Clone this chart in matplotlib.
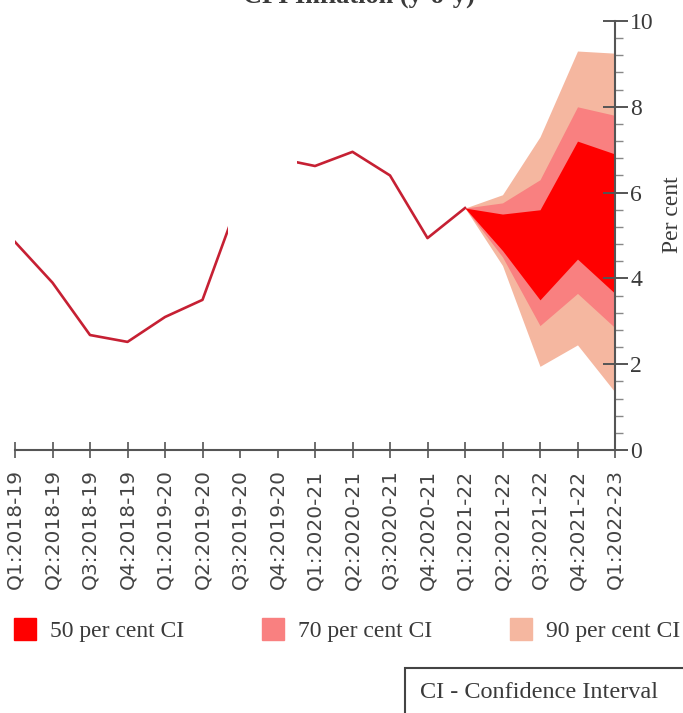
import matplotlib

matplotlib.use("Agg")
import matplotlib.pyplot as plt
from matplotlib.patches import Patch, Rectangle
from matplotlib.ticker import AutoMinorLocator, MultipleLocator

LINE_RED = "#C62033"
CI50 = "#FF0000"
CI70 = "#F98080"
CI90 = "#F5B7A0"
AXIS_GREY = "#555555"
TEXT_GREY = "#3A3A3A"

quarters = [
    "Q1:2018-19", "Q2:2018-19", "Q3:2018-19", "Q4:2018-19",
    "Q1:2019-20", "Q2:2019-20", "Q3:2019-20", "Q4:2019-20",
    "Q1:2020-21", "Q2:2020-21", "Q3:2020-21", "Q4:2020-21",
    "Q1:2021-22", "Q2:2021-22", "Q3:2021-22", "Q4:2021-22",
    "Q1:2022-23",
]

# actual inflation, Q1:2018-19 .. Q1:2021-22
actual = [4.85, 3.9, 2.68, 2.52, 3.1, 3.5, 5.9, 6.8, 6.62, 6.95, 6.4, 4.94, 5.64]
# part of the line hidden in the source picture (quarter positions)
gap_from, gap_to = 5.68, 7.52

# fan chart bands, Q1:2021-22 .. Q1:2022-23
upper90 = [5.64, 5.95, 7.3, 9.3, 9.25]
upper70 = [5.64, 5.76, 6.3, 8.0, 7.8]
upper50 = [5.64, 5.5, 5.6, 7.2, 6.9]
lower50 = [5.64, 4.65, 3.5, 4.45, 3.65]
lower70 = [5.64, 4.5, 2.9, 3.65, 2.85]
lower90 = [5.64, 4.3, 1.95, 2.45, 1.35]

fig = plt.figure(figsize=(6.83, 7.13), dpi=100)
ax = fig.add_axes([15 / 683, 1 - 450 / 713, 600 / 683, 429 / 713])

x_act = list(range(len(actual)))
x_fan = list(range(len(actual) - 1, len(quarters)))

# keep every mark under the spines (zorder 2.5)
ax.fill_between(x_fan, lower90, upper90, color=CI90, linewidth=0, zorder=1.0)
ax.fill_between(x_fan, lower70, upper70, color=CI70, linewidth=0, zorder=1.1)
ax.fill_between(x_fan, lower50, upper50, color=CI50, linewidth=0, zorder=1.2)
ax.plot(x_act, actual, color=LINE_RED, linewidth=1.9, zorder=1.5)
ax.axvspan(gap_from, gap_to, color="white", linewidth=0, zorder=2.0)

ax.set_xlim(0, len(quarters) - 1)
ax.set_ylim(0, 10)
ax.set_xticks(range(len(quarters)))
ax.set_xticklabels(quarters, rotation=90, fontsize=14.5, family="DejaVu Sans", color="#444444")

ax.yaxis.tick_right()
ax.yaxis.set_label_position("right")
ax.yaxis.set_major_locator(MultipleLocator(2))
ax.yaxis.set_minor_locator(AutoMinorLocator(5))
ax.tick_params(axis="y", which="major", direction="inout", length=18, width=1.4,
               color=AXIS_GREY, labelsize=17, pad=2)
ax.tick_params(axis="y", which="minor", direction="out", length=6, width=1.0, color="#888888")
ax.tick_params(axis="x", which="major", direction="inout", length=12, width=1.2,
               color=AXIS_GREY, pad=8)
for lab in ax.get_yticklabels():
    lab.set_family("Liberation Serif")
    lab.set_color(TEXT_GREY)

ax.set_ylabel("Per cent", fontsize=17, family="Liberation Serif", color=TEXT_GREY, rotation=90)
ax.yaxis.set_label_coords(1.078, 0.548)

for side in ("top", "left"):
    ax.spines[side].set_visible(False)
for side in ("right", "bottom"):
    ax.spines[side].set_color(AXIS_GREY)
    ax.spines[side].set_linewidth(1.5)

# title tail, cut by the top edge in the source
fig.text(475 / 683, 1 - 3 / 713, "CPI Inflation (y-o-y)", ha="right", va="baseline",
         fontsize=19, fontweight="bold", family="Liberation Serif", color=TEXT_GREY)

handles = [Patch(color=CI50), Patch(color=CI70), Patch(color=CI90)]
fig.legend(handles, ["50 per cent CI", "70 per cent CI", "90 per cent CI"],
           loc="center left", bbox_to_anchor=(14 / 683, 1 - 630 / 713), ncol=3,
           frameon=False, prop={"family": "Liberation Serif", "size": 17},
           labelcolor=TEXT_GREY,
           handlelength=0.92, handleheight=1.05, handletextpad=0.6, columnspacing=3.3,
           borderaxespad=0, borderpad=0)

fig.add_artist(Rectangle((405 / 683, -0.05), 0.5, 0.05 + (713 - 668) / 713,
                         transform=fig.transFigure, facecolor="white",
                         edgecolor="#444444", linewidth=1.5))
fig.text(420 / 683, 1 - 693 / 713, "CI - Confidence Interval", ha="left", va="center",
         fontsize=17.5, family="Liberation Serif", color=TEXT_GREY)

fig.savefig("out.png", dpi=100, facecolor="white")
